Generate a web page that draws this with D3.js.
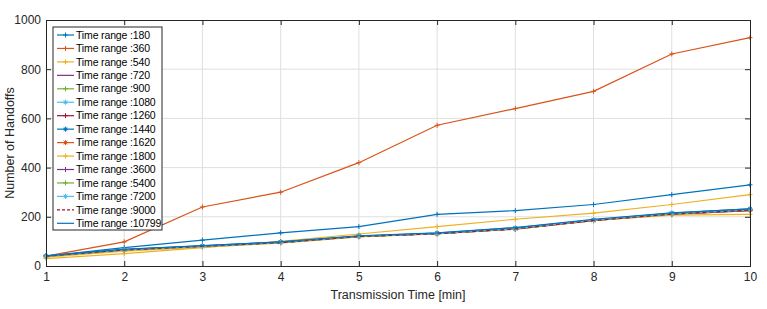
<!DOCTYPE html>
<html>
<head>
<meta charset="utf-8">
<script src="https://cdn.jsdelivr.net/npm/d3@7"></script>
<style>
  body { margin: 0; background: #fff; }
  svg text { font-family: "Liberation Sans Narrow", "Arial Narrow", "Liberation Sans", sans-serif; }
</style>
</head>
<body>
<svg id="chart" width="767" height="309"></svg>
<script>
// transmission time (x) and time-range series
var minutes = [1, 2, 3, 4, 5, 6, 7, 8, 9, 10];
var timeRanges = [180, 360, 540, 720, 900, 1080, 1260, 1440, 1620, 1800, 3600, 5400, 7200, 9000, 10799];
var yTicks = [0, 200, 400, 600, 800, 1000];

var h180   = [40, 75, 105, 135, 160, 210, 225, 250, 290, 330];
var h360   = [40, 98, 240, 300, 420, 572, 640, 710, 862, 928];
var h540   = [30, 50, 75, 100, 130, 160, 190, 215, 250, 290];
var h720   = [40, 66, 80, 96, 120, 132, 152, 186, 212, 228];
var h900   = [40, 65, 80, 95, 119, 131, 151, 185, 211, 226];
var h1080  = [40, 67, 81, 97, 121, 133, 153, 187, 213, 229];
var h1260  = [40, 64, 79, 95, 120, 131, 150, 184, 210, 225];
var h1440  = [41, 68, 82, 98, 122, 134, 155, 188, 215, 232];
var h1620  = [39, 65, 80, 96, 120, 132, 151, 185, 212, 227];
var h1800  = [36, 60, 77, 93, 118, 130, 150, 185, 207, 210];
var h3600  = [40, 66, 81, 96, 120, 132, 151, 186, 212, 228];
var h5400  = [40, 65, 80, 95, 120, 131, 151, 186, 211, 227];
var h7200  = [40, 66, 80, 96, 121, 132, 152, 187, 213, 229];
var h9000  = [40, 65, 80, 95, 120, 131, 151, 185, 211, 227];
var h10799 = [41, 68, 83, 98, 123, 135, 156, 190, 216, 232];

var handoffs = [h180, h360, h540, h720, h900, h1080, h1260, h1440, h1620, h1800, h3600, h5400, h7200, h9000, h10799];
// marker per series: "+" plus, "*" star, "" none
var markers = ["+", "+", "+", "", "+", "*", "+", "*", "*", "+", "+", "+", "*", "", ""];

var matlab = ["#0072BD", "#D95319", "#EDB120", "#7E2F8E", "#77AC30", "#4DBEEE", "#A2142F"];

var svg = d3.select("#chart"),
    margin = {top: 20, right: 17, bottom: 43, left: 46},
    width = 767 - margin.left - margin.right,
    height = 309 - margin.top - margin.bottom,
    g = svg.append("g").attr("transform", "translate(" + margin.left + "," + margin.top + ")");

var x = d3.scaleLinear().domain([1, 10]).range([0, width]);
var y = d3.scaleLinear().domain([0, 1000]).range([height, 0]);

var plusPath = "M-2.5,0H2.5M0,-2.5V2.5";
var starPath = "M-2.5,0H2.5M0,-2.5V2.5M-1.8,-1.8L1.8,1.8M-1.8,1.8L1.8,-1.8";

// grid
g.append("g").selectAll("line").data(minutes.slice(1, -1)).enter().append("line")
    .attr("x1", function(d) { return x(d); }).attr("x2", function(d) { return x(d); })
    .attr("y1", 0).attr("y2", height)
    .attr("stroke", "#dfdfdf").attr("stroke-width", 1);
g.append("g").selectAll("line").data(yTicks.slice(1, -1)).enter().append("line")
    .attr("y1", function(d) { return y(d); }).attr("y2", function(d) { return y(d); })
    .attr("x1", 0).attr("x2", width)
    .attr("stroke", "#dfdfdf").attr("stroke-width", 1);

var line = d3.line()
    .x(function(d, i) { return x(minutes[i]); })
    .y(function(d) { return y(d); });

handoffs.forEach(function(vals, k) {
  var color = matlab[k % 7];
  var sg = g.append("g");
  sg.append("path")
      .datum(vals)
      .attr("d", line)
      .attr("fill", "none")
      .attr("stroke", color)
      .attr("stroke-width", 1.2)
      .attr("stroke-dasharray", timeRanges[k] === 9000 ? "4,3" : null);
  if (markers[k]) {
    sg.selectAll("path.m").data(vals).enter().append("path")
        .attr("class", "m")
        .attr("transform", function(d, i) { return "translate(" + x(minutes[i]) + "," + y(d) + ")"; })
        .attr("d", markers[k] === "*" ? starPath : plusPath)
        .attr("stroke", color).attr("stroke-width", 1).attr("fill", "none");
  }
});

// axes box with inward ticks
var ax = d3.axisBottom(x).tickValues(minutes).tickSize(-5).tickPadding(6).tickFormat(d3.format("d"));
var ay = d3.axisLeft(y).tickValues(yTicks).tickSize(-5).tickPadding(5).tickFormat(d3.format("d"));
g.append("g").attr("transform", "translate(0," + height + ")").call(ax);
g.append("g").call(ay);
g.append("g").call(d3.axisTop(x).tickValues(minutes).tickSize(-5).tickFormat(""));
g.append("g").attr("transform", "translate(" + width + ",0)").call(d3.axisRight(y).tickValues(yTicks).tickSize(-5).tickFormat(""));

g.selectAll(".domain").attr("stroke", "#262626");
g.selectAll(".tick line").attr("stroke", "#262626");
g.selectAll(".tick text").attr("fill", "#262626").style("font-size", "12px");

// axis titles
g.append("text")
    .attr("x", width / 2).attr("y", height + 33)
    .attr("text-anchor", "middle").attr("fill", "#262626")
    .style("font-size", "12.5px")
    .text("Transmission Time [min]");
g.append("text")
    .attr("transform", "translate(-32," + (height / 2) + ") rotate(-90)")
    .attr("text-anchor", "middle").attr("fill", "#262626")
    .style("font-size", "12.5px")
    .text("Number of Handoffs");

// legend
var lg = g.append("g").attr("transform", "translate(7,7)");
lg.append("rect")
    .attr("width", 109).attr("height", 203)
    .attr("fill", "#fff").attr("stroke", "#262626").attr("stroke-width", 1);
timeRanges.forEach(function(r, k) {
  var color = matlab[k % 7];
  var ly = 8 + k * 13.45;
  var row = lg.append("g").attr("transform", "translate(0," + ly + ")");
  row.append("line")
      .attr("x1", 4).attr("x2", 21).attr("y1", 0).attr("y2", 0)
      .attr("stroke", color).attr("stroke-width", 1.2)
      .attr("stroke-dasharray", r === 9000 ? "3,2" : null);
  if (markers[k]) {
    row.append("path")
        .attr("transform", "translate(12.5,0)")
        .attr("d", markers[k] === "*" ? starPath : plusPath)
        .attr("stroke", color).attr("stroke-width", 1).attr("fill", "none");
  }
  row.append("text")
      .attr("x", 23).attr("y", 0).attr("dy", "0.35em")
      .attr("fill", "#000").style("font-size", "10.5px")
      .style("letter-spacing", "-0.15px")
      .text("Time range :" + r);
});
</script>
</body>
</html>
